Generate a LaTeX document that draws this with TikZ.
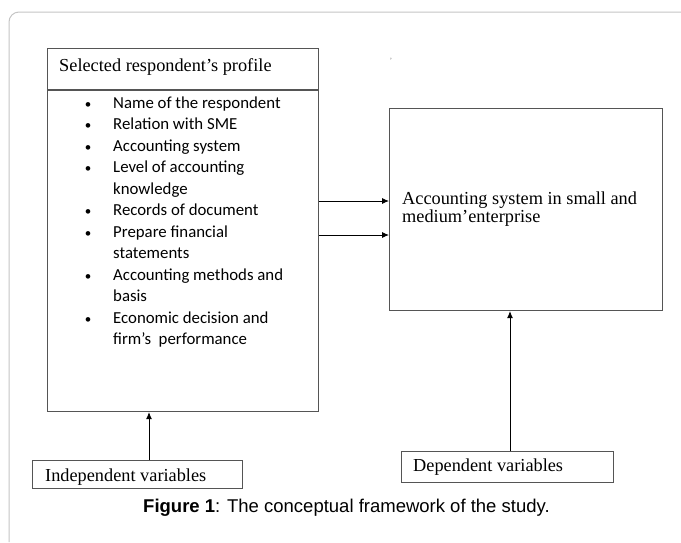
\documentclass[tikz,border=0pt]{standalone}
\usepackage{fontspec}
\setmainfont{Liberation Serif}
\newfontfamily\calib{Carlito}
\newfontfamily\arialf{Liberation Sans}
\usetikzlibrary{arrows.meta}
\definecolor{boxline}{HTML}{555555}
\definecolor{framegray}{HTML}{C4C4C4}
\tikzset{
  boxshape/.style={draw=boxline, line width=1.1pt, rectangle, inner sep=0pt, anchor=north west},
  serif/.style={font=\fontsize{18.3}{19}\selectfont, inner sep=0pt, anchor=base west},
  listline/.style={font=\calib\fontsize{16.8}{20}\selectfont, inner sep=0pt, anchor=base west},
  bulletmark/.style={font=\calib\fontsize{13}{20}\selectfont, inner sep=0pt, anchor=base},
  arr/.style={draw=black, line width=0.9pt, -{Latex[length=7pt,width=6pt]}},
}
\begin{document}
\begin{tikzpicture}[x=1pt,y=-1pt]
\useasboundingbox (0,0) rectangle (681,542);
% outer frame
\draw[framegray, line width=1pt, rounded corners=10pt] (9,542) -- (9,12) -- (681,12);
% stray mark
\node[inner sep=0pt, text=gray, font=\fontsize{8}{8}\selectfont] (mark) at (391,61) {'};
% left box
\node[boxshape, minimum width=271pt, minimum height=363pt] (L) at (47,48) {};
\draw[draw=boxline, line width=1.1pt] (L.north west |- 0,90) coordinate (hd1) -- (L.north east |- 0,90) coordinate (hd2);
\node[serif] (head) at (59,71) {Selected respondent's profile};
% bullet list
\foreach \i/\b/\t in {1/1/Name of the respondent, 2/1/Relation with SME, 3/1/Accounting system, 4/1/Level of accounting, 5/0/knowledge, 6/1/Records of document, 7/1/Prepare financial, 8/0/statements, 9/1/Accounting methods and, 10/0/basis, 11/1/Economic decision and, 12/0/firm’s\ \ performance}{
  \pgfmathsetmacro{\yy}{108+(\i-1)*21.5}
  \node[listline] (t\i) at (113,\yy) {\t};
  \ifnum\b=1 \node[bulletmark] (bu\i) at (88,\yy) {\textbullet}; \fi
}
% right box
\node[boxshape, minimum width=273pt, minimum height=202pt] (R) at (389,108) {};
\node[serif] (r1) at (402,204) {Accounting system in small and};
\node[serif] (r2) at (402,222) {medium'enterprise};
% bottom boxes
\node[boxshape, minimum width=210pt, minimum height=28pt] (I) at (32,460) {};
\node[serif] (it) at (45,481) {Independent variables};
\node[boxshape, minimum width=212pt, minimum height=31pt] (D) at (401,451) {};
\node[serif] (dt) at (413,471) {Dependent variables};
% arrows
\draw[arr] (L.east |- 0,201) -- (R.west |- 0,201);
\draw[arr] (L.east |- 0,235) -- (R.west |- 0,235);
\draw[arr] (I.north -| 149,0) -- (L.south -| 149,0);
\draw[arr] (D.north -| 510,0) -- (R.south -| 510,0);
% caption
\node[inner sep=0pt, anchor=base west, font=\arialf\fontsize{18.5}{20}\selectfont] (cap) at (143,512) {\textbf{Figure 1}: The conceptual framework of the study.};
\end{tikzpicture}
\end{document}
